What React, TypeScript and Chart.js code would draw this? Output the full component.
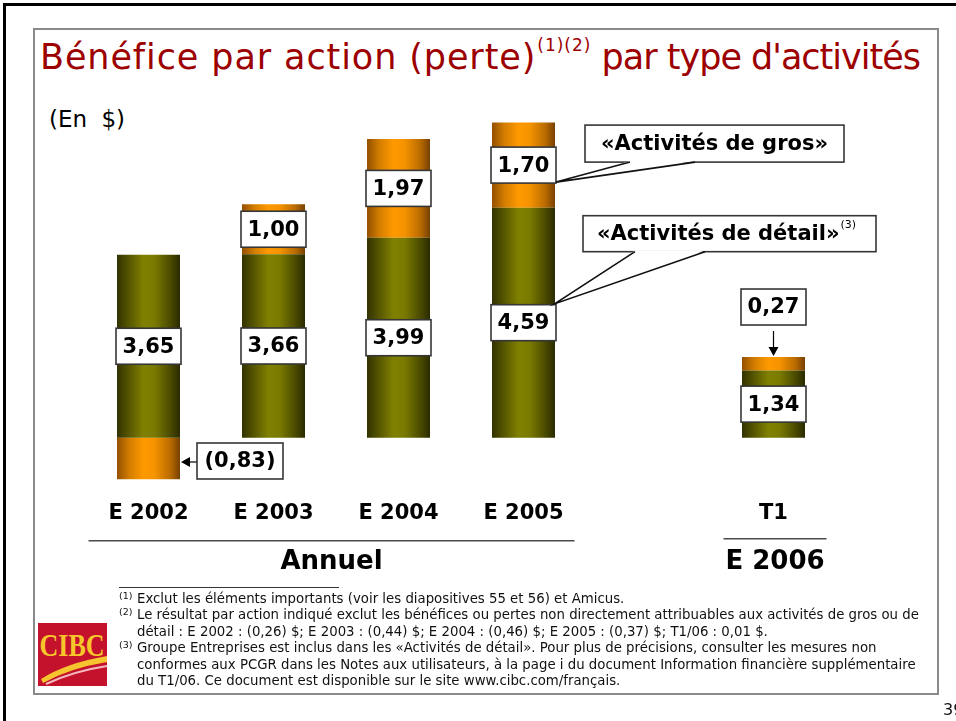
import React, { useEffect, useRef } from 'react';
import { Chart, registerables } from 'chart.js';

Chart.register(...registerables);

// ---- data ----
const categories = ['E 2002', 'E 2003', 'E 2004', 'E 2005', '', 'T1'];
const retailEps = [3.65, 3.66, 3.99, 4.59, null, 1.34];
const wholesaleEps = [-0.83, 1.0, 1.97, 1.7, null, 0.27];
const seriesNames = ['«Activités de détail»', '«Activités de gros»'];
const groupLabels = ['Annuel', 'E 2006'];
const groupFrom = [0, 5];
const groupTo = [3, 5];
const calloutIndex = 3;

const Y_MIN = -0.9;
const Y_MAX = 6.3;
const FONT = '"DejaVu Sans", Verdana, sans-serif';
const BAR_PCT = 0.504;

const GREEN_STOPS = ['#323200', '#585800', '#808000', '#7a7a00', '#4a4a00', '#2a2a00'];
const ORANGE_STOPS = ['#945000', '#d47e00', '#ff9900', '#f59300', '#b86a00', '#774000'];
const STOP_POS = [0, 0.2, 0.42, 0.6, 0.85, 1];

function cylinder(stops: string[]) {
  return (ctx: any) => {
    const chart = ctx.chart;
    const xs = chart.scales && chart.scales.x;
    if (!xs || ctx.dataIndex == null) return stops[2];
    const cx = xs.getPixelForValue(ctx.dataIndex);
    const step = Math.abs(xs.getPixelForValue(1) - xs.getPixelForValue(0));
    const hw = (step * BAR_PCT) / 2;
    if (!isFinite(cx) || !isFinite(hw) || hw <= 0) return stops[2];
    const g = chart.ctx.createLinearGradient(cx - hw, 0, cx + hw, 0);
    stops.forEach((s, i) => g.addColorStop(STOP_POS[i], s));
    return g;
  };
}

const fmt = (v: number) => {
  const s = Math.abs(v).toFixed(2).replace('.', ',');
  return v < 0 ? `(${s})` : s;
};

function drawBox(c: CanvasRenderingContext2D, x: number, y: number, w: number, h: number) {
  c.save();
  c.fillStyle = '#ffffff';
  c.fillRect(x, y, w, h);
  c.lineWidth = 1.6;
  c.strokeStyle = '#363636';
  c.strokeRect(x, y, w, h);
  c.restore();
}

function drawArrow(c: CanvasRenderingContext2D, x1: number, y1: number, x2: number, y2: number) {
  c.save();
  c.strokeStyle = '#000';
  c.fillStyle = '#000';
  c.lineWidth = 1.2;
  const ang = Math.atan2(y2 - y1, x2 - x1);
  const len = 9;
  c.beginPath();
  c.moveTo(x1, y1);
  c.lineTo(x2 - Math.cos(ang) * len, y2 - Math.sin(ang) * len);
  c.stroke();
  c.beginPath();
  c.moveTo(x2, y2);
  c.lineTo(x2 - Math.cos(ang) * len + Math.sin(ang) * 5, y2 - Math.sin(ang) * len - Math.cos(ang) * 5);
  c.lineTo(x2 - Math.cos(ang) * len - Math.sin(ang) * 5, y2 - Math.sin(ang) * len + Math.cos(ang) * 5);
  c.closePath();
  c.fill();
  c.restore();
}

function drawCallout(
  c: CanvasRenderingContext2D,
  bx: number, by: number, bw: number, bh: number,
  a: number, b: number, tipX: number, tipY: number
) {
  drawBox(c, bx, by, bw, bh);
  c.save();
  c.fillStyle = '#fff';
  c.beginPath();
  c.moveTo(bx + a, by + bh - 1.2);
  c.lineTo(tipX, tipY);
  c.lineTo(bx + b, by + bh - 1.2);
  c.closePath();
  c.fill();
  c.strokeStyle = '#111';
  c.lineWidth = 1.6;
  c.beginPath();
  c.moveTo(bx + a, by + bh);
  c.lineTo(tipX, tipY);
  c.lineTo(bx + b, by + bh);
  c.stroke();
  c.restore();
}

const boxesPlugin = {
  id: 'valueBoxes',
  afterDatasetsDraw(chart: any) {
    const c: CanvasRenderingContext2D = chart.ctx;
    c.save();
    c.font = `bold 21px ${FONT}`;
    c.textAlign = 'center';
    c.textBaseline = 'middle';
    chart.data.datasets.forEach((ds: any, di: number) => {
      const meta = chart.getDatasetMeta(di);
      meta.data.forEach((el: any, i: number) => {
        const v = ds.data[i];
        if (v == null) return;
        const { x, y, base, width } = el.getProps(['x', 'y', 'base', 'width'], true);
        const top = Math.min(y, base);
        const bot = Math.max(y, base);
        const mid = (top + bot) / 2;
        const hw = width / 2;
        const h = 36;
        let bx: number, by: number, bw: number;
        if (v < 0) {
          bw = 86;
          bx = x + hw + 17;
          by = mid - 15.5;
          drawArrow(c, bx, by + h / 2 + 1, x + hw + 1, by + h / 2 + 1);
        } else if (bot - top < h) {
          bw = width + 2;
          bx = x - bw / 2;
          by = top - 32 - h;
          drawArrow(c, x, by + h + 6, x, top - 1);
        } else {
          bw = width + 2;
          bx = x - bw / 2;
          by = mid - h / 2;
        }
        drawBox(c, bx, by, bw, h);
        c.fillStyle = '#000';
        c.fillText(fmt(v), bx + bw / 2, by + h / 2 + 1);
      });
    });

    // callouts naming the two series, attached to the last annual bar
    const eR = chart.getDatasetMeta(0).data[calloutIndex];
    const eW = chart.getDatasetMeta(1).data[calloutIndex];
    if (eR && eW) {
      const right = eR.x + eR.width / 2;
      // wholesale
      const wMid = (eW.y + eW.base) / 2;
      const tgX = right + 1, tgY = wMid + 17;
      const gx = right + 30, gy = tgY - 57, gw = 259, gh = 37;
      drawCallout(c, gx, gy, gw, gh, 45, 110, tgX, tgY);
      c.fillStyle = '#000';
      c.textAlign = 'center';
      c.font = `bold 21px ${FONT}`;
      c.fillText(seriesNames[1], gx + gw / 2, gy + gh / 2 + 1);
      // retail
      const rMid = (eR.y + eR.base) / 2;
      const tdX = right, tdY = rMid - 19;
      const dx = right + 28, dh = 36, dy = tdY - 52 - dh, dw = 293;
      drawCallout(c, dx, dy, dw, dh, 52, 122, tdX, tdY);
      c.textAlign = 'left';
      c.fillStyle = '#000';
      c.font = `bold 21px ${FONT}`;
      c.fillText(seriesNames[0], dx + 14, dy + dh / 2 + 1);
      const tw = c.measureText(seriesNames[0]).width;
      c.font = `11px ${FONT}`;
      c.fillText('(3)', dx + 14 + tw + 1, dy + 9);
    }
    c.restore();
  },
  afterDraw(chart: any) {
    const c: CanvasRenderingContext2D = chart.ctx;
    const xs = chart.scales.x;
    const b = chart.chartArea.bottom;
    c.save();
    groupLabels.forEach((lab, gi) => {
      const single = groupFrom[gi] === groupTo[gi];
      const x1 = xs.getPixelForValue(groupFrom[gi]) - (single ? 50 : 60);
      const x2 = xs.getPixelForValue(groupTo[gi]) + (single ? 53 : 51);
      const ly = b + (single ? 56 : 58);
      c.strokeStyle = '#4a4a4a';
      c.lineWidth = 1.6;
      c.beginPath();
      c.moveTo(x1, ly);
      c.lineTo(x2, ly);
      c.stroke();
      c.fillStyle = '#000';
      c.font = `bold 26px ${FONT}`;
      c.textAlign = 'center';
      c.textBaseline = 'middle';
      c.fillText(lab, (x1 + x2) / 2, b + 79);
    });
    c.restore();
  },
};

function Logo() {
  return (
    <svg width={69} height={63} style={{ position: 'absolute', left: 38, top: 623 }}>
      <rect x={0} y={0} width={69} height={63} fill="#c4122c" />
      <text
        x={34}
        y={33}
        textAnchor="middle"
        fontFamily='"Liberation Serif", "DejaVu Serif", serif'
        fontWeight="bold"
        fontSize={32}
        textLength={65}
        lengthAdjust="spacingAndGlyphs"
        fill="#f6c62a"
      >
        CIBC
      </text>
      <path d="M3 56 Q 28 40 69 33 L 69 39 Q 32 45 5 60 Z" fill="#f6c42f" />
      <path d="M8 61 Q 36 48 69 43" stroke="#f3b9bd" strokeWidth={2.2} fill="none" />
    </svg>
  );
}

const footLines: [string, string][] = [
  ['(1)', 'Exclut les éléments importants (voir les diapositives 55 et 56) et Amicus.'],
  ['(2)', 'Le résultat par action indiqué exclut les bénéfices ou pertes non directement attribuables aux activités de gros ou de'],
  ['', 'détail : E 2002 : (0,26) $; E 2003 : (0,44) $; E 2004 : (0,46) $; E 2005 : (0,37) $; T1/06 : 0,01 $.'],
  ['(3)', 'Groupe Entreprises est inclus dans les «Activités de détail». Pour plus de précisions, consulter les mesures non'],
  ['', 'conformes aux PCGR dans les Notes aux utilisateurs, à la page i du document Information financière supplémentaire'],
  ['', 'du T1/06. Ce document est disponible sur le site www.cibc.com/français.'],
];

export default function App() {
  const ref = useRef<HTMLCanvasElement>(null);

  useEffect(() => {
    if (!ref.current) return;
    const chart = new Chart(ref.current, {
      type: 'bar',
      data: {
        labels: categories,
        datasets: [
          {
            label: seriesNames[0],
            data: retailEps as any,
            backgroundColor: cylinder(GREEN_STOPS) as any,
            borderWidth: 0,
            barPercentage: BAR_PCT,
            categoryPercentage: 1,
          },
          {
            label: seriesNames[1],
            data: wholesaleEps as any,
            backgroundColor: cylinder(ORANGE_STOPS) as any,
            borderWidth: 0,
            barPercentage: BAR_PCT,
            categoryPercentage: 1,
          },
        ],
      },
      options: {
        responsive: false,
        animation: false,
        devicePixelRatio: 1,
        layout: { padding: { left: 86, right: 120, top: 122, bottom: 177 } },
        font: { family: FONT },
        plugins: {
          legend: { display: false },
          tooltip: { enabled: false },
        },
        scales: {
          x: {
            stacked: true,
            grid: { display: false, drawTicks: false },
            border: { display: false },
            ticks: {
              color: '#000',
              padding: 18,
              font: { family: FONT, size: 21, weight: 'bold' },
              maxRotation: 0,
              autoSkip: false,
            },
          },
          y: {
            stacked: true,
            display: false,
            min: Y_MIN,
            max: Y_MAX,
          },
        },
      } as any,
      plugins: [boxesPlugin],
    });
    return () => chart.destroy();
  }, []);

  return (
    <div
      style={{
        position: 'fixed',
        left: 0,
        top: 0,
        width: 956,
        height: 721,
        background: '#fff',
        overflow: 'hidden',
        fontFamily: FONT,
      }}
    >
      <div
        style={{
          position: 'absolute',
          left: 3,
          top: 3,
          width: 980,
          height: 740,
          borderTop: '3px solid #000',
          borderLeft: '3px solid #000',
        }}
      />
      <div
        style={{
          position: 'absolute',
          left: 33,
          top: 28,
          width: 902,
          height: 663,
          border: '2px solid #8a8a8a',
        }}
      />
      <div
        style={{
          position: 'absolute',
          left: 40,
          top: 37,
          fontSize: 35,
          color: '#9c0000',
          whiteSpace: 'nowrap',
          lineHeight: 'normal',
        }}
      >
        <span style={{ letterSpacing: 0.9 }}>Bénéfice par action (perte)</span>
        <span style={{ fontSize: 17, position: 'relative', top: -18, letterSpacing: 1, marginLeft: 1 }}>(1)(2)</span>
        <span style={{ letterSpacing: -1 }}> par type d'activités</span>
      </div>
      <div style={{ position: 'absolute', left: 49, top: 106, fontSize: 23, wordSpacing: 7, whiteSpace: 'nowrap' }}>
        (En $)
      </div>
      <canvas
        ref={ref}
        width={956}
        height={721}
        style={{ position: 'absolute', left: 0, top: 0, width: 956, height: 721, display: 'block' }}
      />
      <div
        style={{
          position: 'absolute',
          left: 119,
          top: 587,
          width: 220,
          borderTop: '1.5px solid #333',
        }}
      />
      {footLines.map(([sup, txt], i) => (
        <div
          key={i}
          style={{
            position: 'absolute',
            left: 119,
            top: 591 + i * 16.4,
            fontSize: 13.3,
            lineHeight: '16px',
            whiteSpace: 'nowrap',
            color: '#111',
          }}
        >
          <span style={{ display: 'inline-block', width: 18, fontSize: 9.5, verticalAlign: 'top', position: 'relative', top: -3 }}>
            {sup}
          </span>
          {txt}
        </div>
      ))}
      <Logo />
      <div style={{ position: 'absolute', left: 943, top: 700, fontSize: 16, color: '#111' }}>39</div>
    </div>
  );
}
